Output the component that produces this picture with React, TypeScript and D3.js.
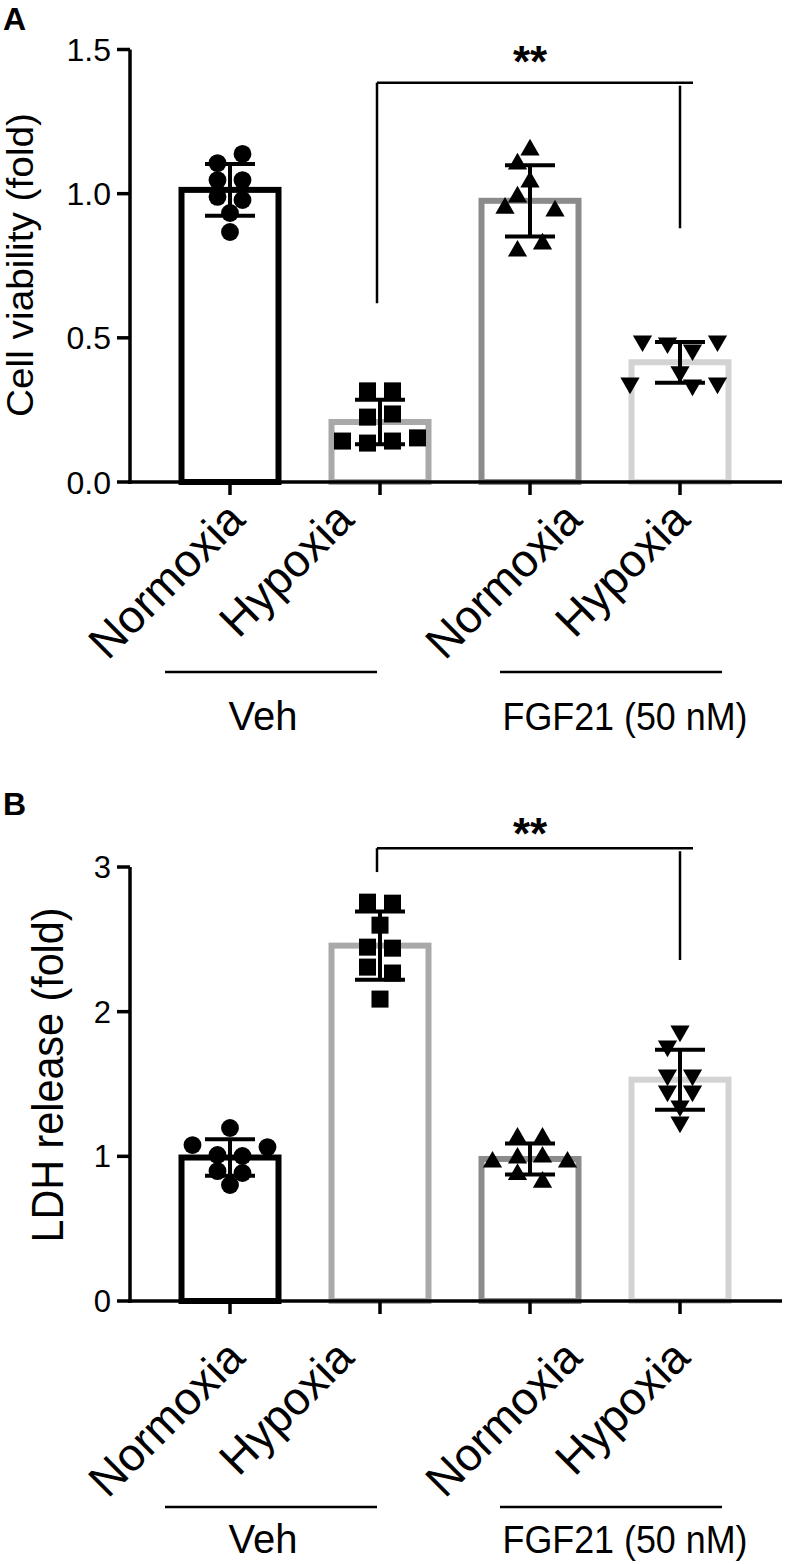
import React from "react";
import * as d3 from "d3";

// ---------- data ----------
const categories = ["Normoxia", "Hypoxia", "Normoxia", "Hypoxia"];
const groupLabels = ["Veh", "FGF21 (50 nM)"];

const viabilityTicks = [0, 0.5, 1.0, 1.5];
const ldhTicks = [0, 1, 2, 3];

// Cell viability (fold), n = 8 per group
const viabilityVehNormoxia = [1.106, 1.138, 1.047, 1.047, 0.989, 0.978, 0.933, 0.867];
const viabilityVehHypoxia = [0.316, 0.316, 0.225, 0.236, 0.142, 0.135, 0.142, 0.153];
const viabilityFgfNormoxia = [1.152, 1.103, 1.041, 0.989, 0.95, 0.94, 0.801, 0.826];
const viabilityFgfHypoxia = [0.489, 0.482, 0.458, 0.489, 0.382, 0.343, 0.336, 0.343];

// LDH release (fold), n = 8 per group
const ldhVehNormoxia = [1.196, 1.078, 1.009, 1.002, 1.064, 0.898, 0.885, 0.802];
const ldhVehHypoxia = [2.757, 2.75, 2.598, 2.446, 2.439, 2.308, 2.267, 2.087];
const ldhFgfNormoxia = [1.126, 1.126, 0.961, 0.988, 0.995, 0.961, 0.875, 0.822];
const ldhFgfHypoxia = [1.866, 1.762, 1.562, 1.562, 1.451, 1.451, 1.348, 1.237];

const viabilitySig = { from: 1, to: 3, top: 1.385, leftEnd: 0.62, rightEnd: 0.88, label: "**" };
const ldhSig = { from: 1, to: 3, top: 3.13, leftEnd: 2.965, rightEnd: 2.357, label: "**" };

// ---------- styles / layout ----------
const FONT = "'Liberation Sans', Arial, Helvetica, sans-serif";
const barColors = ["#000000", "#a9a9a9", "#8b8b8b", "#d3d3d3"];
const symbolTypes = [d3.symbolCircle, d3.symbolSquare, d3.symbolTriangle, d3.symbolTriangle];
const symbolSizes = [250, 290, 160, 160];
const symbolRotate = [0, 0, 0, 180];
const labelShift = [17, -24, 54, 12];

const panels = [
  {
    letter: "A",
    series: [viabilityVehNormoxia, viabilityVehHypoxia, viabilityFgfNormoxia, viabilityFgfHypoxia],
    ticks: viabilityTicks,
    domain: [0, 1.5],
    fmt: d3.format(".1f"),
    title: "Cell viability (fold)",
    sig: viabilitySig,
    L: {
      letterY: 30, y0: 482, yTop: 49.5, tickFont: 32, titleX: 33, titleY: 265, titleFont: 36, titleLen: 304,
      labelDY: 40, groupLineY: 672, groupTextY: 730, sigTextY: 77,
    },
  },
  {
    letter: "B",
    series: [ldhVehNormoxia, ldhVehHypoxia, ldhFgfNormoxia, ldhFgfHypoxia],
    ticks: ldhTicks,
    domain: [0, 3],
    fmt: d3.format("d"),
    title: "LDH release (fold)",
    sig: ldhSig,
    L: {
      letterY: 815, y0: 1301, yTop: 867, tickFont: 31, titleX: 63, titleY: 1075, titleFont: 44, titleLen: 335,
      labelDY: 59, groupLineY: 1507, groupTextY: 1553, sigTextY: 849,
    },
  },
];

// beeswarm-like row layout of the dots around each bar centre
function swarm(ys: number[], step: number, rowTol: number, minDist: number): number[] {
  const offsets = new Array(ys.length).fill(0);
  const placed: [number, number][] = [];
  const lattice = d3.range(-4, 5).map((k) => (k * step) / 2);
  let i = 0;
  while (i < ys.length) {
    let j = i + 1;
    while (j < ys.length && Math.abs(ys[j] - ys[i]) <= rowTol) j++;
    const idx = d3.range(i, j);
    const n = idx.length;
    let best: number[] | null = null;
    let bestCost = Infinity;
    const choose = (start: number, combo: number[]) => {
      if (combo.length === n) {
        for (let m = 0; m < n; m++) {
          const yy = ys[idx[m]];
          for (const [px, py] of placed) {
            if (Math.hypot(combo[m] - px, yy - py) < minDist - 1e-6) return;
          }
        }
        const cost = d3.sum(combo, (c) => Math.abs(c)) + 1.5 * Math.abs(d3.sum(combo));
        if (cost < bestCost - 1e-9) {
          bestCost = cost;
          best = combo.slice();
        }
        return;
      }
      for (let k = start; k < lattice.length; k++) choose(k + 2, [...combo, lattice[k]]);
    };
    choose(0, []);
    const chosen = best || idx.map((_, m) => (m - (n - 1) / 2) * step);
    idx.forEach((ii, m) => {
      offsets[ii] = chosen[m];
      placed.push([chosen[m], ys[ii]]);
    });
    i = j;
  }
  return offsets;
}

const x = d3.scalePoint<number>().domain(d3.range(categories.length)).range([230, 680]);

function Panel({ p }: { p: (typeof panels)[number] }) {
  const L = p.L;
  const y = d3.scaleLinear().domain(p.domain).range([L.y0, L.yTop]);
  const barW = 97;
  return (
    <g>
      <text x={3} y={L.letterY} fontFamily={FONT} fontWeight={700} fontSize={32}>
        {p.letter}
      </text>
      {/* y title */}
      <text
        transform={`translate(${L.titleX},${L.titleY}) rotate(-90)`}
        textAnchor="middle"
        fontFamily={FONT}
        fontSize={L.titleFont}
        textLength={L.titleLen}
        lengthAdjust="spacingAndGlyphs"
      >
        {p.title}
      </text>
      {/* bars */}
      {p.series.map((vals, i) => {
        const m = d3.mean(vals)!;
        return (
          <rect
            key={"b" + i}
            x={x(i)! - barW / 2}
            y={y(m)}
            width={barW}
            height={L.y0 - y(m)}
            fill="white"
            stroke={barColors[i]}
            strokeWidth={6}
          />
        );
      })}
      {/* points */}
      {p.series.map((vals, i) => {
        const ys = vals.map((v) => y(v));
        const offs = swarm(ys, 25, 11, 16);
        const path = d3.symbol().type(symbolTypes[i]).size(symbolSizes[i])()!;
        return (
          <g key={"p" + i}>
            {vals.map((v, k) => (
              <path
                key={k}
                d={path}
                fill="black"
                transform={`translate(${x(i)! + offs[k]},${ys[k]}) rotate(${symbolRotate[i]})`}
              />
            ))}
          </g>
        );
      })}
      {/* error bars (mean ± SD) */}
      {p.series.map((vals, i) => {
        const m = d3.mean(vals)!;
        const sd = d3.deviation(vals)!;
        const cx = x(i)!;
        return (
          <g key={"e" + i} stroke="black" strokeWidth={4}>
            <line x1={cx} x2={cx} y1={y(m + sd)} y2={y(m - sd)} />
            <line x1={cx - 25} x2={cx + 25} y1={y(m + sd)} y2={y(m + sd)} />
            <line x1={cx - 25} x2={cx + 25} y1={y(m - sd)} y2={y(m - sd)} />
          </g>
        );
      })}
      {/* axes */}
      <g stroke="black" strokeWidth={3.5}>
        <line x1={130} x2={130} y1={L.yTop} y2={L.y0 + 1.75} />
        <line x1={128} x2={782} y1={L.y0} y2={L.y0} />
        {p.ticks.map((t) => (
          <line key={"yt" + t} x1={117} x2={130} y1={y(t)} y2={y(t)} />
        ))}
        {categories.map((_, i) => (
          <line key={"xt" + i} x1={x(i)} x2={x(i)} y1={L.y0} y2={L.y0 + 13} />
        ))}
      </g>
      {p.ticks.map((t) => (
        <text
          key={"yl" + t}
          x={111}
          y={y(t)}
          dy="0.36em"
          textAnchor="end"
          fontFamily={FONT}
          fontSize={L.tickFont}
        >
          {p.fmt(t)}
        </text>
      ))}
      {categories.map((c, i) => (
        <text
          key={"xl" + i}
          transform={`translate(${x(i)! + labelShift[i]},${L.y0 + L.labelDY}) rotate(-45)`}
          textAnchor="end"
          fontFamily={FONT}
          fontSize={46}
        >
          {c}
        </text>
      ))}
      {/* group lines */}
      <g stroke="black" strokeWidth={2.5}>
        <line x1={x(0)! - 65} x2={x(1)! - 3} y1={L.groupLineY} y2={L.groupLineY} />
        <line x1={x(2)! - 30} x2={x(3)! + 42} y1={L.groupLineY} y2={L.groupLineY} />
      </g>
      <text x={x(0)! + 33} y={L.groupTextY} textAnchor="middle" fontFamily={FONT} fontSize={40}>
        {groupLabels[0]}
      </text>
      <text
        x={x(2)! + 95}
        y={L.groupTextY}
        textAnchor="middle"
        fontFamily={FONT}
        fontSize={38}
        textLength={245}
        lengthAdjust="spacingAndGlyphs"
      >
        {groupLabels[1]}
      </text>
      {/* significance bracket */}
      <g stroke="black" strokeWidth={2.5} fill="none">
        <line x1={x(p.sig.from)! - 3} x2={x(p.sig.to)! + 13} y1={y(p.sig.top)} y2={y(p.sig.top)} />
        <line x1={x(p.sig.from)! - 3} x2={x(p.sig.from)! - 3} y1={y(p.sig.top)} y2={y(p.sig.leftEnd)} />
        <line x1={x(p.sig.to)!} x2={x(p.sig.to)!} y1={y(p.sig.top) + 3} y2={y(p.sig.rightEnd)} />
      </g>
      <text
        x={(x(p.sig.from)! + x(p.sig.to)!) / 2}
        y={L.sigTextY}
        textAnchor="middle"
        fontFamily={FONT}
        fontWeight={700}
        fontSize={44}
      >
        {p.sig.label}
      </text>
    </g>
  );
}

export default function App() {
  return (
    <svg
      width={791}
      height={1564}
      viewBox="0 0 791 1564"
      style={{ position: "absolute", left: 0, top: 0, background: "white" }}
    >
      <rect width={791} height={1564} fill="white" />
      {panels.map((p) => (
        <Panel key={p.letter} p={p} />
      ))}
    </svg>
  );
}
